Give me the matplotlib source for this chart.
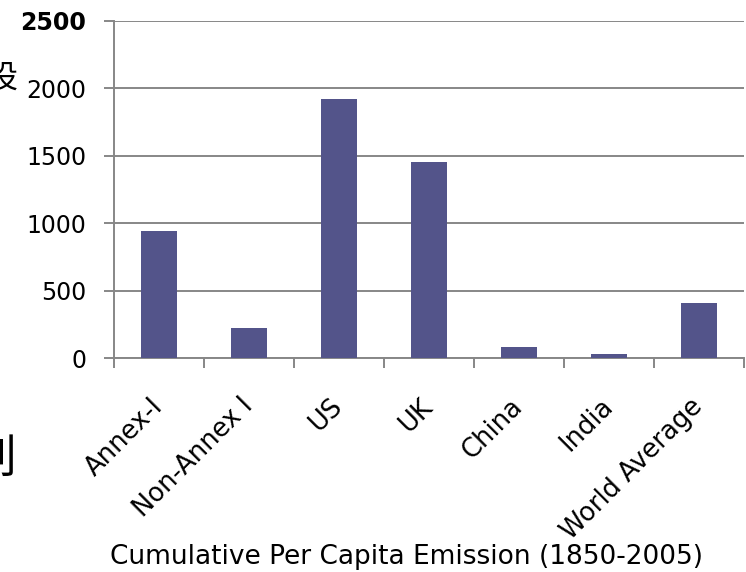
import matplotlib
matplotlib.use("Agg")
import matplotlib.pyplot as plt
import numpy as np

categories = ["Annex-I", "Non-Annex I", "US", "UK", "China", "India", "World Average"]
values = [940, 225, 1925, 1455, 80, 30, 410]
yticks = [0, 500, 1000, 1500, 2000, 2500]
xlabel_text = "Cumulative Per Capita Emission (1850-2005)"

BAR = "#53548A"
GRID = "#878787"
DPI = 100

fig = plt.figure(figsize=(7.46, 5.72), dpi=DPI)
ax = fig.add_axes([114 / 746, 214 / 572, 630 / 746, 337 / 572])

x = np.arange(len(categories))
ax.bar(x, values, width=0.41, color=BAR, zorder=3)

ax.set_xlim(-0.5, len(categories) - 0.5)
ax.set_ylim(0, 2500)

# horizontal gridlines
ax.set_yticks(yticks)
ax.yaxis.grid(True, color=GRID, linewidth=1.4, zorder=1)
ax.set_axisbelow(True)
ax.set_yticklabels([str(v) for v in yticks], fontsize=17, color="black")
ax.tick_params(axis="y", direction="out", length=7, width=1.4, color=GRID, pad=13)
for lab in ax.get_yticklabels():
    if lab.get_text() == "2500":
        lab.set_fontweight("bold")

# category ticks sit between the bars
ax.set_xticks(x)
ax.set_xticklabels(categories, fontsize=18.5, rotation=45, ha="right",
                   rotation_mode="anchor", va="center")
ax.tick_params(axis="x", which="major", length=0, pad=32)
ax.set_xticks(np.arange(-0.5, len(categories)), minor=True)
ax.tick_params(axis="x", which="minor", direction="out", length=7, width=1.4, color=GRID)

for side in ("top", "right"):
    ax.spines[side].set_visible(False)
for side in ("left", "bottom"):
    ax.spines[side].set_color(GRID)
    ax.spines[side].set_linewidth(1.4)

fig.text(406 / 746, 1 - 557 / 572, xlabel_text, fontsize=19,
         ha="center", va="center", color="black")

# side caption characters running off the left edge
fig.text(-14 / 746, 1 - 79 / 572, "设", fontsize=23,
         family=["Noto Sans CJK SC", "DejaVu Sans"], ha="left", va="center")
fig.text(-30 / 746, 1 - 459 / 572, "别", fontsize=33,
         family=["Noto Sans CJK SC", "DejaVu Sans"], ha="left", va="center")

fig.savefig("out.png", dpi=DPI)
